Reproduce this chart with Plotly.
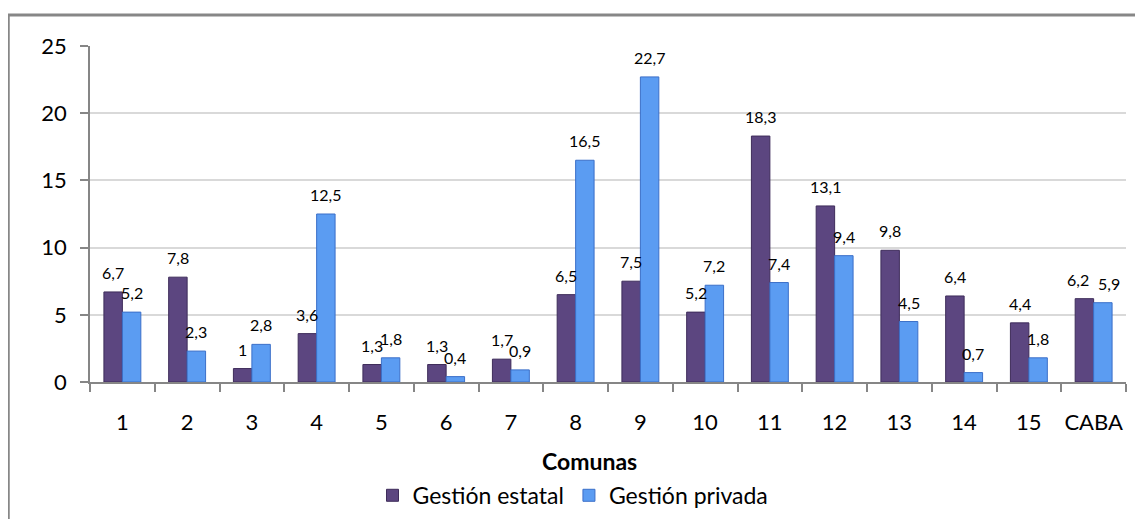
import plotly.graph_objects as go

categorias = ["1", "2", "3", "4", "5", "6", "7", "8", "9", "10", "11", "12", "13", "14", "15", "CABA"]
gestion_estatal = [6.7, 7.8, 1, 3.6, 1.3, 1.3, 1.7, 6.5, 7.5, 5.2, 18.3, 13.1, 9.8, 6.4, 4.4, 6.2]
gestion_privada = [5.2, 2.3, 2.8, 12.5, 1.8, 0.4, 0.9, 16.5, 22.7, 7.2, 7.4, 9.4, 4.5, 0.7, 1.8, 5.9]
y_ticks = [0, 5, 10, 15, 20, 25]


def fmt(v):
    return ("%g" % v).replace(".", ",")


FONT = "Lato, Carlito, Calibri, sans-serif"

series = [
    ("Gestión estatal", gestion_estatal, "#5C4680", "#3E2C5A"),
    ("Gestión privada", gestion_privada, "#5B9CF2", "#3B6FC8"),
]

fig = go.Figure()
for name, vals, col, edge in series:
    fig.add_trace(go.Bar(
        x=categorias, y=vals, name=name,
        marker=dict(color=col, line=dict(color=edge, width=1)),
    ))

W, H = 1143, 519
OFF = 8  # page body margin offset
SX0, SX1, SY0, SY1 = 90, 1126, 46, 382.5
L = SX0 - OFF
R = W - (SX1 - OFF)
T = SY0 - OFF
B = H - (SY1 - OFF)
pw, ph = W - L - R, H - T - B

BARGAP = 0.43
cat_px = pw / len(categorias)
bar_px = cat_px * (1 - BARGAP) / 2


def px_x(sx):
    return (sx - SX0) / pw


def px_y(sy):
    return (SY1 - sy) / ph


# value labels above each bar (x given as category index);
# labels of a pair with almost equal heights are spread apart so they do not collide
for i, (name, vals, col, edge) in enumerate(series):
    side = -1 if i == 0 else 1
    for k, v in enumerate(vals):
        other = series[1 - i][1][k]
        spread = 6 if abs(v - other) < 0.5 else 0
        fig.add_annotation(x=k, y=v, xref="x", yref="y", text=fmt(v), showarrow=False,
                           xanchor="center", yanchor="bottom",
                           xshift=side * (bar_px / 2 + spread), yshift=8,
                           font=dict(size=16, family=FONT, color="#000000"))

fig.update_layout(
    width=W, height=H,
    margin=dict(l=L, r=R, t=T, b=B, autoexpand=False),
    paper_bgcolor="white", plot_bgcolor="white",
    font=dict(family=FONT, color="#000000"),
    barmode="group", bargap=BARGAP, bargroupgap=0,
    legend=dict(orientation="h", x=px_x(573), xanchor="center", y=px_y(496), yanchor="middle",
                font=dict(size=23, family=FONT), traceorder="normal", itemwidth=30),
    showlegend=True,
)
fig.update_yaxes(
    range=[0, 25], tickvals=y_ticks, ticktext=[str(v) for v in y_ticks],
    showgrid=True, gridcolor="#D9D9D9", gridwidth=1.5,
    showline=True, linecolor="#868686", linewidth=1.5,
    ticks="outside", ticklen=8, tickcolor="#868686", tickwidth=1.5,
    tickfont=dict(size=22, family=FONT), ticklabelstandoff=9, zeroline=False,
    automargin=False,
)
fig.update_xaxes(
    type="category", showline=True, linecolor="#868686", linewidth=1.5,
    ticks="outside", ticklen=8, tickcolor="#868686", tickwidth=1.5, tickson="boundaries",
    tickfont=dict(size=22, family=FONT), ticklabelstandoff=20, tickangle=0, showgrid=False,
    automargin=False,
)
fig.add_annotation(text="<b>Comunas</b>", xref="paper", yref="paper", x=px_x(589), y=px_y(462),
                   showarrow=False, font=dict(size=23, family=FONT), xanchor="center", yanchor="middle")

# outer chart border (left and top edges visible, the rest runs off the picture)
TOP = 15
fig.add_shape(type="line", xref="paper", yref="paper",
              x0=px_x(8.5), x1=px_x(8.5), y0=px_y(TOP), y1=px_y(570),
              line=dict(color="#878787", width=2.5), layer="above")
fig.add_shape(type="line", xref="paper", yref="paper",
              x0=px_x(7.5), x1=px_x(1190), y0=px_y(TOP), y1=px_y(TOP),
              line=dict(color="#878787", width=3), layer="above")

fig.write_html("out.html")
